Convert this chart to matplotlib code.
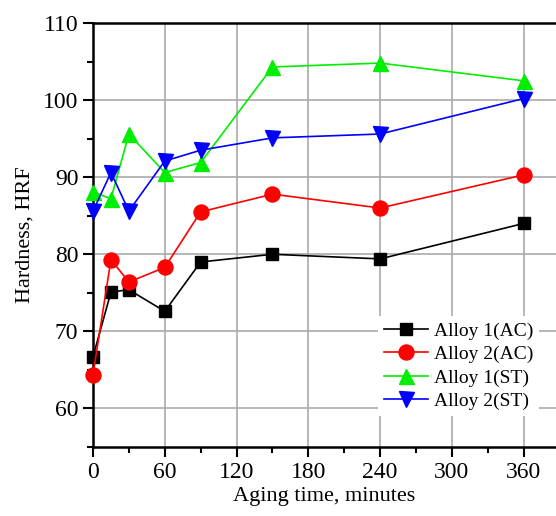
import matplotlib
matplotlib.use("Agg")
import matplotlib.pyplot as plt
from matplotlib.ticker import MultipleLocator

plt.rcParams['font.family'] = ['Liberation Serif', 'DejaVu Serif']

# aging time (minutes) and hardness readings
time_min = [0, 15, 30, 60, 90, 150, 240, 360]
alloy1_ac = [66.7, 75.1, 75.4, 72.6, 79.0, 80.0, 79.4, 84.0]
alloy2_ac = [64.4, 79.3, 76.4, 78.3, 85.5, 87.8, 86.0, 90.3]
alloy1_st = [88.1, 87.2, 95.6, 90.6, 91.9, 104.3, 104.8, 102.5]
alloy2_st = [85.6, 90.6, 85.6, 92.1, 93.5, 95.1, 95.6, 100.2]

x_ticks = [0, 60, 120, 180, 240, 300, 360]
y_ticks = [60, 70, 80, 90, 100, 110]

fig = plt.figure(figsize=(5.56, 5.16), dpi=100)
ax = fig.add_axes([93 / 556, 1 - 447 / 516, 1 - 93 / 556, (447 - 23) / 516])

series = [
    (alloy1_ac, "black", "s", 8.5, "Alloy 1(AC)"),
    (alloy2_ac, "red", "o", 10.8, "Alloy 2(AC)"),
    (alloy1_st, "#00ee00", "^", 10.8, "Alloy 1(ST)"),
    (alloy2_st, "blue", "v", 10.8, "Alloy 2(ST)"),
]
for vals, col, mk, ms, lab in series:
    ax.plot(time_min, vals, color=col, marker=mk, markersize=ms, linewidth=1.2,
            label=lab, clip_on=False, zorder=3)

ax.set_xlim(0, 387)
ax.set_ylim(55, 110)
ax.set_xticks(x_ticks)
ax.set_yticks(y_ticks)
ax.xaxis.set_minor_locator(MultipleLocator(30))
ax.yaxis.set_minor_locator(MultipleLocator(5))
ax.grid(True, which="major", color="#aaaaaa", linewidth=1.2, zorder=0)
ax.set_axisbelow(True)

ax.tick_params(which="major", direction="out", length=7, width=1.5, labelsize=17)
ax.tick_params(which="minor", direction="out", length=4, width=1.5)
for s in ["left", "bottom", "top"]:
    ax.spines[s].set_linewidth(1.8)
ax.spines["right"].set_visible(False)

ax.set_xlabel("Aging time, minutes", fontsize=16, labelpad=3)
ax.set_ylabel("Hardness, HRF", fontsize=16, labelpad=6)

leg = ax.legend(loc="lower right", bbox_to_anchor=(0.985, 0.05), fontsize=14,
                frameon=True, fancybox=False, edgecolor="none", facecolor="white",
                framealpha=1, handlelength=2.3, handletextpad=0.3,
                labelspacing=0.3, borderpad=0.3)

fig.savefig("out.png", dpi=100)
